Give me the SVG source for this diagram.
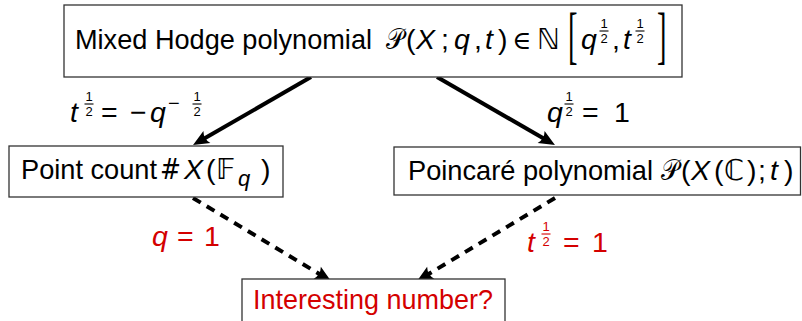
<svg xmlns="http://www.w3.org/2000/svg" width="802" height="321" viewBox="0 0 802 321">
<style>
.box{fill:#fff;stroke:#333;stroke-width:1.3}
.t{font-family:"Liberation Sans",Arial,sans-serif;font-size:28.5px;fill:#000}
.p{font-family:"Liberation Sans",Arial,sans-serif;font-size:27.2px;fill:#000}
.i{font-style:italic}
.n{font-style:normal}
.sym{font-family:"DejaVu Sans","Noto Sans",sans-serif;font-style:normal}
.ser{font-family:"DejaVu Serif","Liberation Serif",serif;font-style:normal}
.br{font-family:"Liberation Serif","Times New Roman",serif}
.f{font-family:"Liberation Sans",Arial,sans-serif;font-size:13px;font-style:normal}
.fb{stroke:#000;stroke-width:1.1}
.red{fill:#d40000}
.rb{stroke:#d40000}
.arrow{stroke:#000;stroke-width:4;fill:none;marker-end:url(#ah)}
.dash{stroke-dasharray:9 7}
</style>
<defs>
<marker id="ah" markerUnits="userSpaceOnUse" viewBox="-8 -8 20 16" markerWidth="20" markerHeight="16" refX="0" refY="0" orient="auto" overflow="visible">
<path d="M10,0 L-6,-7 Q-2,0 -6,7 Z" fill="#000"/>
</marker>
</defs>

<g id="connectors">
<line class="arrow" x1="311" y1="77" x2="201.7" y2="140"/>
<line class="arrow" x1="437" y1="77" x2="546.3" y2="140"/>
<line class="arrow dash" x1="193" y1="198" x2="322.4" y2="275.8"/>
<line class="arrow dash" x1="555" y1="198" x2="425.6" y2="275.8"/>
</g>

<g id="node-mixed-hodge">
<rect class="box" x="64" y="5" width="618" height="72"/>
<text class="p" x="75" y="49" textLength="297" lengthAdjust="spacingAndGlyphs">Mixed Hodge polynomial</text>
<text class="t i"><tspan class="sym" x="386" y="49" textLength="18" lengthAdjust="spacingAndGlyphs">𝒫</tspan><tspan class="n" x="406" y="49">(</tspan><tspan x="416" y="49">X</tspan><tspan class="n" x="441" y="49">;</tspan><tspan x="454" y="49">q</tspan><tspan class="n" x="474" y="49">,</tspan><tspan x="485" y="49">t</tspan><tspan class="n" x="498" y="49">)</tspan><tspan class="ser" x="512" y="49" font-size="26">∈</tspan><tspan class="sym" x="537" y="49">ℕ</tspan><tspan x="581" y="49">q</tspan><tspan class="f" x="600.5" y="28">1</tspan><tspan class="f" x="600.5" y="43">2</tspan><tspan class="n" x="612" y="49">,</tspan><tspan x="623" y="49">t</tspan><tspan class="f" x="636.5" y="28">1</tspan><tspan class="f" x="636.5" y="43">2</tspan></text>
<line class="fb" x1="599.5" y1="31" x2="608.5" y2="31"/>
<line class="fb" x1="635.5" y1="31" x2="644.5" y2="31"/>
<text class="t br" transform="translate(568,41) scale(1,2.2)" y="6.7">[</text>
<text class="t br" transform="translate(657,41) scale(1,2.2)" y="6.7">]</text>
</g>

<g id="node-point-count">
<rect class="box" x="9" y="146" width="274" height="51"/>
<text class="p" x="21" y="179" font-size="26.5">Point count</text>
<text class="t i"><tspan class="sym" x="160" y="179" textLength="21" lengthAdjust="spacingAndGlyphs">#</tspan><tspan x="184" y="179">X</tspan><tspan class="n" x="206" y="179">(</tspan><tspan class="sym" x="216" y="179">𝔽</tspan><tspan x="238" y="186" font-size="22">q</tspan><tspan class="n" x="261" y="179">)</tspan></text>
</g>

<g id="node-poincare">
<rect class="box" x="394" y="147" width="406.5" height="48"/>
<text class="p" x="408" y="180" textLength="245" lengthAdjust="spacingAndGlyphs">Poincaré polynomial</text>
<text class="t i"><tspan class="sym" x="661" y="180" textLength="18" lengthAdjust="spacingAndGlyphs">𝒫</tspan><tspan class="n" x="681" y="180">(</tspan><tspan x="691" y="180">X</tspan><tspan class="n" x="714" y="180">(</tspan><tspan class="sym" x="724" y="180">ℂ</tspan><tspan class="n" x="747" y="180">)</tspan><tspan class="n" x="758" y="180">;</tspan><tspan x="770" y="180">t</tspan><tspan class="n" x="784" y="180">)</tspan></text>
</g>

<g id="node-interesting">
<rect class="box" x="242" y="279" width="263" height="52"/>
<text class="p red" x="253" y="309" textLength="240" lengthAdjust="spacingAndGlyphs">Interesting number?</text>
</g>

<g id="edge-labels">
<text class="t i"><tspan x="70" y="122">t</tspan><tspan class="f" x="85.5" y="101">1</tspan><tspan class="f" x="85.5" y="116">2</tspan><tspan class="n" x="101" y="122">=</tspan><tspan class="n" x="130" y="122">−</tspan><tspan x="150" y="122">q</tspan><tspan class="n" x="168" y="110" font-size="20">−</tspan><tspan class="f" x="193.5" y="101">1</tspan><tspan class="f" x="193.5" y="116">2</tspan></text>
<line class="fb" x1="192.5" y1="104" x2="201.5" y2="104"/>
<line class="fb" x1="84.5" y1="104" x2="93.5" y2="104"/>

<text class="t i"><tspan x="547" y="122">q</tspan><tspan class="f" x="565.5" y="101">1</tspan><tspan class="f" x="565.5" y="116">2</tspan><tspan class="n" x="582" y="122">=</tspan><tspan class="n" x="614" y="122">1</tspan></text>
<line class="fb" x1="564.5" y1="104" x2="573.5" y2="104"/>

<text class="t i red"><tspan x="152" y="246">q</tspan><tspan class="n" x="177" y="246">=</tspan><tspan class="n" x="204" y="246">1</tspan></text>

<text class="t i red"><tspan x="527" y="252">t</tspan><tspan class="f" x="542.5" y="231">1</tspan><tspan class="f" x="542.5" y="246">2</tspan><tspan class="n" x="563" y="252">=</tspan><tspan class="n" x="592" y="252">1</tspan></text>
<line class="fb rb" x1="541.5" y1="234" x2="550.5" y2="234"/>
</g>
</svg>
